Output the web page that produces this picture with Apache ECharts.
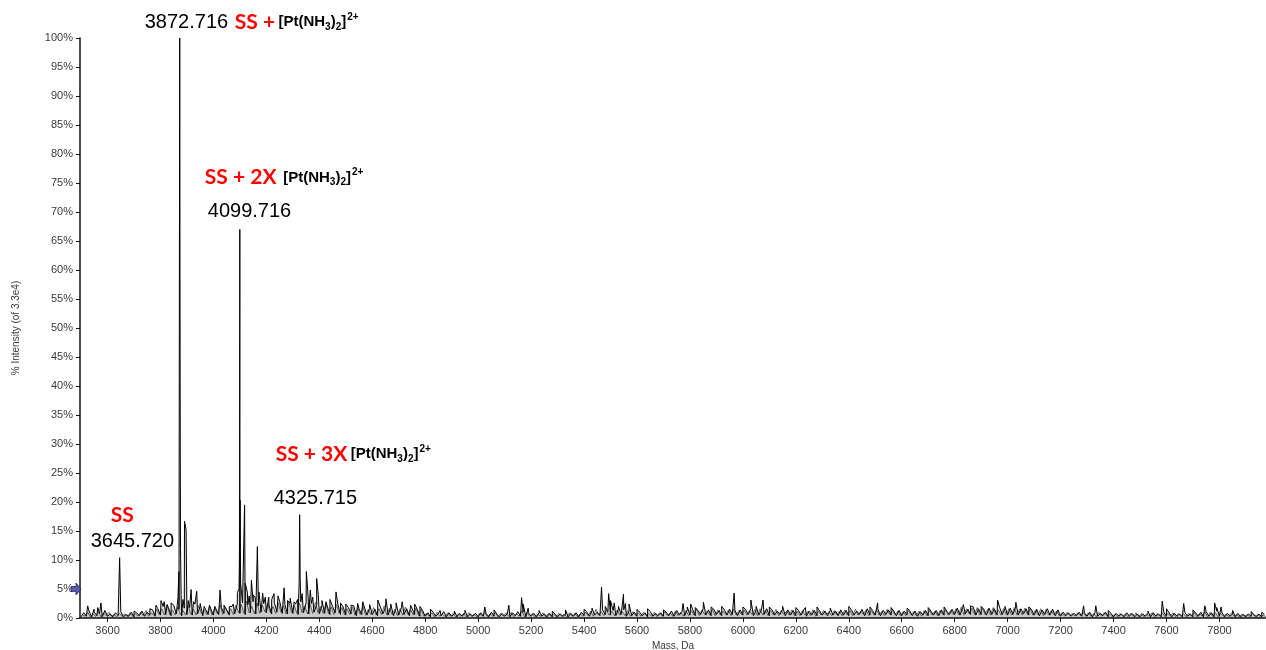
<!DOCTYPE html>
<html>
<head>
<meta charset="utf-8">
<script src="https://cdn.jsdelivr.net/npm/echarts@6/dist/echarts.min.js"></script>
<style>
html,body{margin:0;padding:0;background:#fff;}
#chart{width:1266px;height:650px;}
</style>
</head>
<body>
<div id="chart"></div>
<script>
// ---------------- DATA ----------------
// x-axis tick labels (Mass, Da)
var xTicks = [3600,3800,4000,4200,4400,4600,4800,5000,5200,5400,5600,5800,6000,6200,6400,6600,6800,7000,7200,7400,7600,7800];

// baseline noise, black trace, sampled every 10 Da starting at 3500 Da (% intensity)
var noiseStart = 3500;
var noiseStep = 10;
var noiseValues = [
  0.2,0.9,0.3,1.2,0.2,1.0,0.4,0.8,0.2,1.3,
  0.3,0.7,0.2,0.9,0.4,1.1,0.2,0.6,0.3,1.0,
  0.2,0.9,0.4,1.2,0.3,1.0,0.5,1.4,0.3,1.6,
  0.5,2.0,0.6,1.8,0.4,2.2,0.7,1.5,0.4,1.7,
  0.6,1.8,0.5,2.4,0.7,2.0,0.4,1.7,0.6,1.6,
  0.5,2.2,0.6,1.8,0.8,1.4,0.5,2.0,0.7,2.4,
  0.8,2.6,0.6,2.3,0.9,2.8,0.7,2.1,1.0,2.5,
  0.9,2.2,0.7,2.7,1.0,2.9,0.8,2.3,0.7,2.6,
  0.8,2.4,0.6,2.8,0.9,2.6,0.7,2.5,1.0,2.3,
  0.7,2.2,0.8,2.7,0.6,2.0,0.9,2.4,0.6,1.9,
  0.5,1.8,0.7,2.1,0.4,1.6,0.6,1.9,0.5,1.7,
  0.6,1.5,0.4,2.0,0.7,1.8,0.5,1.9,0.4,1.7,
  0.5,1.8,0.6,1.6,0.4,2.0,0.6,1.5,0.3,1.3,
  0.3,0.9,0.2,1.0,0.3,0.8,0.4,1.1,0.2,0.9,
  0.3,0.7,0.2,0.8,0.3,0.9,0.2,0.7,0.3,0.8,
  0.2,0.9,0.3,0.8,0.2,1.0,0.3,0.7,0.2,0.8,
  0.3,0.7,0.2,0.9,0.4,1.1,0.3,1.0,0.2,0.9,
  0.3,0.8,0.2,0.9,0.3,0.7,0.2,0.8,0.2,0.7,
  0.2,0.7,0.3,0.6,0.2,0.8,0.3,0.9,0.2,1.0,
  0.4,1.1,0.3,1.3,0.5,1.0,0.4,1.4,0.6,1.1,
  0.5,1.3,0.4,1.5,0.6,1.4,0.3,1.2,0.4,1.0,
  0.3,1.0,0.4,0.9,0.2,1.1,0.3,0.8,0.4,0.9,
  0.3,1.0,0.4,1.2,0.3,1.3,0.5,1.1,0.4,1.4,
  0.5,1.5,0.4,1.3,0.6,1.6,0.5,1.4,0.4,1.5,
  0.6,1.3,0.4,1.4,0.5,1.5,0.6,1.3,0.4,1.4,
  0.5,1.5,0.6,1.6,0.4,1.3,0.5,1.4,0.6,1.6,
  0.4,1.4,0.5,1.2,0.6,1.5,0.4,1.4,0.5,1.3,
  0.4,1.3,0.5,1.4,0.3,1.2,0.5,1.3,0.4,1.2,
  0.5,1.2,0.4,1.3,0.5,1.2,0.4,1.4,0.5,1.3,
  0.4,1.4,0.5,1.2,0.6,1.5,0.4,1.6,0.5,1.3,
  0.5,1.5,0.4,1.3,0.6,1.4,0.5,1.2,0.4,1.3,
  0.4,1.2,0.5,1.3,0.4,1.2,0.3,1.1,0.5,1.3,
  0.4,1.2,0.5,1.3,0.4,1.4,0.5,1.2,0.6,1.5,
  0.6,1.7,0.5,1.8,0.7,1.5,0.6,1.9,0.5,1.6,
  0.6,1.5,0.5,1.7,0.6,1.6,0.5,1.8,0.6,1.6,
  0.5,1.7,0.6,1.9,0.5,1.6,0.7,1.6,0.5,1.5,
  0.5,1.5,0.4,1.4,0.6,1.6,0.5,1.5,0.4,1.4,
  0.3,1.0,0.4,0.9,0.3,0.8,0.4,1.0,0.3,0.9,
  0.3,1.0,0.2,0.9,0.3,0.8,0.4,1.0,0.2,0.8,
  0.2,0.8,0.3,0.7,0.2,0.9,0.3,0.8,0.2,0.7,
  0.2,0.7,0.3,0.8,0.2,0.9,0.3,0.7,0.2,1.0,
  0.3,0.9,0.2,0.8,0.3,0.7,0.2,0.9,0.3,0.7,
  0.2,0.9,0.3,1.0,0.2,1.1,0.3,0.9,0.2,1.2,
  0.3,0.9,0.2,0.8,0.3,0.7,0.2,0.8,0.2,0.6,
  0.2,0.7,0.3,0.6,0.2,0.7,0.2,0.6
];

// second (grey) overlaid trace, sampled every 10 Da starting at 3505 Da (% intensity)
var noise2Start = 3505;
var noise2Values = [
  0.6,0.3,1.0,0.2,0.7,0.3,1.1,0.2,0.9,0.4,
  1.0,0.3,0.6,0.2,0.8,0.3,0.7,0.2,0.9,0.3,
  0.8,0.3,1.0,0.4,1.3,0.3,0.9,0.5,1.5,0.6,
  1.6,0.5,2.3,0.6,1.4,0.5,1.9,0.6,1.3,0.5,
  2.1,0.6,1.5,0.5,2.2,0.7,1.4,0.6,2.0,0.5,
  1.7,0.7,2.3,0.6,1.9,0.8,1.6,0.6,2.2,0.9,
  2.4,0.8,2.9,0.9,2.0,0.7,2.6,0.8,2.2,1.0,
  2.5,0.9,2.0,0.8,2.6,1.0,2.1,0.7,2.8,0.9,
  2.2,0.8,2.6,0.9,2.1,0.7,2.4,0.8,2.7,0.9,
  2.0,0.8,2.5,0.7,1.9,0.6,2.3,0.8,1.8,0.6,
  1.6,0.6,1.9,0.5,1.7,0.6,2.0,0.5,1.5,0.6,
  1.8,0.5,1.6,0.6,2.1,0.5,1.7,0.6,1.5,0.4,
  1.6,0.5,1.9,0.6,1.4,0.5,1.7,0.4,1.5,0.3,
  0.8,0.3,0.9,0.2,1.0,0.3,0.7,0.2,0.9,0.3,
  0.8,0.2,0.7,0.3,0.8,0.2,0.9,0.3,0.7,0.2,
  0.8,0.3,1.0,0.2,0.7,0.3,0.9,0.2,0.8,0.3,
  0.9,0.3,1.0,0.2,0.8,0.3,1.2,0.2,0.9,0.3,
  0.8,0.2,0.7,0.3,0.9,0.2,0.8,0.3,0.7,0.2,
  0.8,0.3,0.7,0.2,0.9,0.3,0.8,0.2,0.7,0.3,
  1.0,0.4,1.2,0.3,1.5,0.5,1.1,0.4,1.3,0.5,
  1.2,0.4,1.4,0.5,1.1,0.4,1.3,0.3,1.1,0.4,
  0.9,0.3,1.0,0.4,0.8,0.3,1.0,0.2,0.9,0.3,
  1.1,0.4,0.9,0.3,1.2,0.4,1.0,0.3,1.3,0.4,
  1.3,0.5,1.6,0.4,1.4,0.6,1.2,0.5,1.5,0.4,
  1.4,0.5,1.2,0.6,1.4,0.4,1.5,0.5,1.3,0.6,
  1.4,0.5,1.3,0.6,1.5,0.4,1.6,0.5,1.3,0.4,
  1.3,0.5,1.5,0.4,1.3,0.6,1.2,0.5,1.4,0.4,
  1.2,0.4,1.3,0.5,1.1,0.4,1.4,0.3,1.2,0.5,
  1.3,0.5,1.1,0.4,1.3,0.5,1.2,0.4,1.4,0.5,
  1.3,0.4,1.5,0.5,1.2,0.6,1.4,0.4,1.3,0.5,
  1.4,0.5,1.2,0.4,1.5,0.6,1.3,0.5,1.2,0.4,
  1.1,0.4,1.3,0.5,1.1,0.4,1.2,0.3,1.3,0.4,
  1.3,0.5,1.2,0.4,1.3,0.6,1.4,0.5,1.3,0.6,
  1.6,0.6,1.9,0.5,1.6,0.7,1.7,0.6,1.8,0.5,
  1.7,0.6,1.5,0.5,1.8,0.6,1.4,0.5,1.7,0.6,
  1.6,0.5,1.8,0.6,1.5,0.5,1.7,0.6,1.6,0.5,
  1.4,0.5,1.6,0.4,1.5,0.5,1.3,0.6,1.2,0.4,
  0.9,0.3,1.0,0.4,0.8,0.3,0.9,0.4,1.0,0.3,
  0.9,0.3,0.8,0.2,1.0,0.3,0.9,0.4,0.7,0.2,
  0.7,0.2,0.8,0.3,0.7,0.2,0.8,0.3,0.9,0.2,
  0.8,0.2,0.7,0.3,0.9,0.2,0.8,0.3,0.9,0.2,
  0.8,0.3,0.9,0.2,0.8,0.3,0.7,0.2,0.8,0.3,
  1.0,0.2,0.8,0.3,1.1,0.2,1.0,0.3,0.9,0.2,
  0.8,0.3,0.7,0.2,0.9,0.3,0.6,0.2,0.7,0.3,
  0.6,0.2,0.7,0.3,0.6,0.2,0.5,0.2
];

// resolved peaks (mass in Da, % intensity)
var peakMass = [
  3525,3549,3563,3575,3590,3645.72,3700,3760,3783,3802,3814,3825,3840,3852,3866,
  3869.7,3870.7,3871.7,3872.716,3873.7,3874.7,3875.7,3878,3885,3890.7,3896.7,3905,3915.6,3925,3937,3950,3965,3985,
  4005,4025,4040,4060,4075,4090.6,4096.7,4097.7,4098.7,4099.716,4100.7,4101.7,4102.7,4108,4117.7,4120,4128,4135,
  4143.5,4150,4158,4166,4172,4186,4196,4209,4220,4229,4244,4255,4267,4280,4290,4305,4318,
  4323.7,4324.7,4325.715,4326.7,4327.7,4335,4351,4358,4366,4375,4390,4396,4410,4425,4440,4463,4480,
  4500,4520,4545,4564,4590,4621,4652,4670,4690,4713,4745,4760,4780,
  4820,4856,4910,4950,5025,5060,5116,5164,5170,5189,5230,5280,5330,5400,5430,
  5466,5480,5493,5500,5514,5530,5549,5556,5570,5600,5640,5700,5750,5774,5790,5803,5820,5851,5880,5920,
  5967,6000,6030,6050,6076,6100,6150,6200,6236,6280,6330,6400,6454,6480,6509,6560,6620,6700,6760,
  6833,6860,6900,6962,6990,7031,7080,7150,7287,7333,7380,7450,7530,7584,7600,7665,7700,7745,7782,7790,7806,7850,7920,7960
];
var peakIntensity = [
  2.1,1.5,1.8,2.6,1.5,10.4,1.2,1.6,2.2,3.0,2.8,2.3,2.6,2.1,3.5,
  8,32,67,100,60,30,12,4,3.2,16.7,15.2,3.0,4.9,2.8,4.6,2.5,2.0,2.2,
  2.0,4.8,2.2,2.0,2.4,4.4,5,8,15,67,20.3,12,6,3.5,19.5,6,4.5,3.8,
  6.5,4.0,3.5,12.3,4.5,4.3,3.6,3.6,3.2,4.2,3.8,3.0,5.2,3.0,3.4,2.8,3.2,
  6,11,17.8,13.6,7,4.2,8.0,3.5,4.8,3.6,6.8,4.0,3.0,2.8,3.2,4.5,2.6,
  2.4,2.2,2.5,2.8,2.3,3.1,3.3,2.4,2.6,2.8,2.2,2.4,2.0,
  1.5,1.3,1.2,1.3,1.9,1.4,2.2,3.5,2.4,1.7,1.3,1.2,1.4,1.5,1.7,
  5.3,2.0,4.2,3.0,2.6,2.0,4.1,2.5,2.4,1.5,1.6,1.4,1.6,2.5,1.9,2.4,1.8,2.7,1.9,2.0,
  4.3,1.9,3.1,2.0,3.1,1.9,2.0,1.8,1.8,1.9,1.7,2.0,1.8,1.9,2.6,1.8,1.7,1.8,1.9,
  2.3,2.1,2.0,3.1,2.0,2.7,1.9,1.7,2.1,2.1,1.3,1.2,1.2,2.9,1.6,2.5,1.4,2.1,2.6,1.8,1.9,1.3,1.1,1.0
];

// annotations (text anchored to a peak)
var annoMass = [3872.716, 4099.716, 4099.716, 4325.715, 4325.715, 3645.72, 3645.72];
var annoIntensity = [100, 67, 67, 17.8, 17.8, 10.4, 10.4];
var annoText = [
  '{num|3872.716}  {ss|SS +} {pt|[Pt(NH}{sub|3}{pt|)}{sub|2}{pt|]}{sup|2+}',
  '{ss|SS + 2X}  {pt|[Pt(NH}{sub|3}{pt|)}{sub|2}{pt|]}{sup|2+}',
  '{num|4099.716}',
  '{ss|SS + 3X} {pt|[Pt(NH}{sub|3}{pt|)}{sub|2}{pt|]}{sup|2+}',
  '{num|4325.715}',
  '{ss|SS}',
  '{num|3645.720}'
];

// ---------------- BUILD ----------------
var spectrum = [];
for (var i = 0; i < noiseValues.length; i++) {
  spectrum.push([noiseStart + i * noiseStep, noiseValues[i]]);
}
for (var j = 0; j < peakMass.length; j++) {
  spectrum.push([peakMass[j], peakIntensity[j]]);
}
spectrum.sort(function (a, b) { return a[0] - b[0]; });

var spectrum2 = [];
for (var m = 0; m < noise2Values.length; m++) {
  spectrum2.push([noise2Start + m * noiseStep, noise2Values[m]]);
}

var annoOffsets = [[-35, -16], [-35, -52], [-32, -18], [-24, -61], [-26, -16], [-9, -42], [-29, -16]];

var richStyles = {
  num: { fontFamily: 'Liberation Sans, Arial', fontSize: 20, color: '#000', lineHeight: 26 },
  ss: { fontFamily: 'Lato, Open Sans', fontWeight: 'bold', fontSize: 21, color: '#ff0000', lineHeight: 26 },
  pt: { fontFamily: 'Liberation Sans, Arial', fontWeight: 'bold', fontSize: 15, color: '#000', lineHeight: 26 },
  sub: { fontFamily: 'Liberation Sans, Arial', fontWeight: 'bold', fontSize: 10, color: '#000', lineHeight: 26, verticalAlign: 'bottom', padding: [0, 0, 3, 0] },
  sup: { fontFamily: 'Liberation Sans, Arial', fontWeight: 'bold', fontSize: 10, color: '#000', lineHeight: 26, verticalAlign: 'top', padding: [3, 0, 0, 1] }
};

var annoData = [];
for (var k = 0; k < annoMass.length; k++) {
  annoData.push({
    value: [annoMass[k], annoIntensity[k]],
    label: {
      show: true,
      formatter: annoText[k],
      position: annoOffsets[k],
      align: 'left',
      verticalAlign: 'middle',
      color: '#000',
      opacity: 1,
      rich: richStyles
    }
  });
}

var chart = echarts.init(document.getElementById('chart'), null, { renderer: 'canvas' });
var axisFont = { fontFamily: 'Liberation Sans, Arial', fontSize: 11, color: '#3a3a3a' };

chart.setOption({
  animation: false,
  backgroundColor: '#fff',
  grid: { left: 80, right: 0, top: 38, bottom: 32, containLabel: false, outerBoundsMode: 'none' },
  xAxis: {
    type: 'value',
    min: 3496,
    max: 7976,
    name: 'Mass, Da',
    nameLocation: 'middle',
    nameGap: 22,
    nameTextStyle: { fontFamily: 'Liberation Sans, Arial', fontSize: 10, color: '#3a3a3a' },
    axisLine: { lineStyle: { color: '#111', width: 1.5 } },
    axisTick: { show: true, length: 4, lineStyle: { color: '#111' }, customValues: xTicks },
    axisLabel: Object.assign({ margin: 7, customValues: xTicks, formatter: function (v) { return String(v); } }, axisFont),
    splitLine: { show: false }
  },
  yAxis: {
    type: 'value',
    min: 0,
    max: 100,
    interval: 5,
    name: '% Intensity (of 3.3e4)',
    nameLocation: 'middle',
    nameGap: 59,
    nameTextStyle: { fontFamily: 'Liberation Sans, Arial', fontSize: 10, color: '#3a3a3a' },
    axisLine: { show: true, lineStyle: { color: '#111', width: 1.5 } },
    axisTick: { show: true, length: 4, lineStyle: { color: '#111' } },
    axisLabel: Object.assign({ margin: 7, formatter: '{value}%' }, axisFont),
    splitLine: { show: false }
  },
  series: [
    {
      type: 'line',
      data: spectrum2,
      showSymbol: false,
      symbol: 'none',
      sampling: null,
      lineStyle: { color: '#6e6e6e', width: 1 },
      areaStyle: { color: 'rgba(0,0,0,0.12)' },
      z: 2
    },
    {
      type: 'line',
      data: spectrum,
      showSymbol: false,
      symbol: 'none',
      sampling: null,
      lineStyle: { color: '#000', width: 1 },
      areaStyle: { color: 'rgba(0,0,0,0.18)' },
      z: 3,
      markPoint: {
        silent: true,
        symbol: 'path://M0,3 L5,3 L5,0 L10,5 L5,10 L5,7 L0,7 Z',
        symbolSize: [10, 12],
        symbolOffset: [-4, 0],
        itemStyle: { color: '#5a5ab8', borderColor: '#262650', borderWidth: 0.8 },
        label: { show: false },
        data: [{ coord: [3496, 5] }]
      }
    },
    {
      type: 'scatter',
      data: annoData,
      symbolSize: 0,
      itemStyle: { opacity: 1 },
      silent: true,
      z: 5
    }
  ]
});
</script>
</body>
</html>
